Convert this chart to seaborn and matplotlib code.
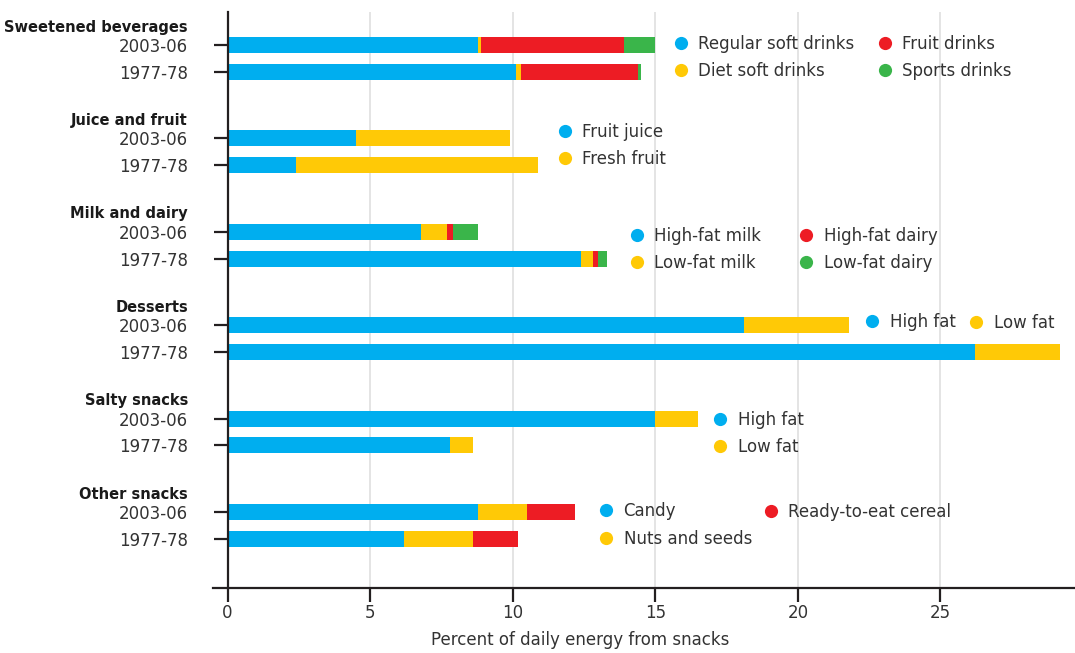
import pandas as pd
import numpy as np
import matplotlib.pyplot as plt
import matplotlib.transforms as mtransforms
from matplotlib.lines import Line2D
import seaborn as sns

# Data (percent of daily energy from snacks), segments in stacking order
periods = ["2003-06", "1977-78"]
groups = ["Sweetened beverages", "Juice and fruit", "Milk and dairy",
          "Desserts", "Salty snacks", "Other snacks"]

sweetened_labels = ["Regular soft drinks", "Diet soft drinks", "Fruit drinks", "Sports drinks"]
sweetened_2003 = [8.8, 0.1, 5.0, 1.1]
sweetened_1977 = [10.1, 0.2, 4.1, 0.1]

juice_labels = ["Fruit juice", "Fresh fruit"]
juice_2003 = [4.5, 5.4]
juice_1977 = [2.4, 8.5]

milk_labels = ["High-fat milk", "Low-fat milk", "High-fat dairy", "Low-fat dairy"]
milk_2003 = [6.8, 0.9, 0.2, 0.9]
milk_1977 = [12.4, 0.4, 0.2, 0.3]

desserts_labels = ["High fat", "Low fat"]
desserts_2003 = [18.1, 3.7]
desserts_1977 = [26.2, 3.0]

salty_labels = ["High fat", "Low fat"]
salty_2003 = [15.0, 1.5]
salty_1977 = [7.8, 0.8]

other_labels = ["Candy", "Nuts and seeds", "Ready-to-eat cereal"]
other_2003 = [8.8, 1.7, 1.7]
other_1977 = [6.2, 2.4, 1.6]

palette = ["#00AEEF", "#FFC906", "#ED1C24", "#3AB54A"]
xticks = [0, 5, 10, 15, 20, 25]
xlabel = "Percent of daily energy from snacks"

series = [(sweetened_2003, sweetened_1977), (juice_2003, juice_1977),
          (milk_2003, milk_1977), (desserts_2003, desserts_1977),
          (salty_2003, salty_1977), (other_2003, other_1977)]

# Build long table: one row per segment with its cumulative end
GROUP_STEP = 3.5
rows = []
for g, pair in enumerate(series):
    for p, vals in enumerate(pair):
        pos = GROUP_STEP * g + 1 + p
        ends = np.cumsum(vals)
        for layer, end in enumerate(ends):
            rows.append({"pos": pos, "layer": layer, "end": end})
df = pd.DataFrame(rows)

W, H = 1075, 653
TEXT = "#333333"
DARK = "#231f20"

sns.set_style("white")
plt.rcParams['font.family'] = ['DejaVu Sans']

fig = plt.figure(figsize=(W / 100, H / 100), dpi=100)
ax = fig.add_axes([213 / W, 65 / H, 862 / W, 576 / H])

# draw the largest cumulative layer first so shorter ones sit on top
for layer in sorted(df["layer"].unique(), reverse=True):
    sub = df[df["layer"] == layer]
    sns.barplot(data=sub, x="end", y="pos", orient="h", native_scale=True,
                color=palette[layer], width=0.6, errorbar=None,
                linewidth=0, saturation=1, ax=ax)

ax.set_xlim(-0.51, 29.72)
ax.set_ylim(21.34, -0.236)

# axes styling
for s in ["top", "right"]:
    ax.spines[s].set_visible(False)
ax.spines["left"].set_position(("data", 0))
for s in ["left", "bottom"]:
    ax.spines[s].set_linewidth(1.6)
    ax.spines[s].set_color(DARK)

ax.set_xticks(xticks)
ax.set_xticklabels([str(t) for t in xticks])
ypos = [GROUP_STEP * g + 1 + p for g in range(len(groups)) for p in range(2)]
ax.set_yticks(ypos)
ax.set_yticklabels(periods * len(groups))
ax.tick_params(axis="x", bottom=True, direction="out", length=10, width=1.6,
               color=DARK, labelsize=12, labelcolor=TEXT, pad=1.5)
ax.tick_params(axis="y", left=True, direction="out", length=10, width=1.6,
               color=DARK, labelsize=12, labelcolor=TEXT, pad=18.4)
ax.set_ylabel("")
ax.set_xlabel(xlabel, fontsize=12, color=TEXT)
ax.xaxis.set_label_coords((580 - 213) / 862, -0.075)

ax.grid(axis="x", color="#dddddd", linewidth=1.1)
ax.grid(axis="y", visible=False)
ax.set_axisbelow(True)

# group headers
trans = mtransforms.blended_transform_factory(fig.transFigure, ax.transData)
for g, name in enumerate(groups):
    ax.text(188 / W, GROUP_STEP * g + 0.33, name, transform=trans,
            ha="right", va="center", fontsize=10.5, fontweight="bold", color="#1a1a1a")

# legends, one per column: (labels, colour index offset, circle x px, centre y px)
legend_cols = [
    (sweetened_labels[:2], 0, 681, 57.5),
    (sweetened_labels[2:], 2, 885, 57.5),
    (juice_labels, 0, 565, 145.5),
    (milk_labels[:2], 0, 637, 249.5),
    (milk_labels[2:], 2, 806, 249.5),
    (desserts_labels[:1], 0, 872, 322),
    (desserts_labels[1:], 1, 976, 323),
    (salty_labels, 0, 720, 433.5),
    (other_labels[:2], 0, 606, 525),
    (other_labels[2:], 2, 771, 512),
]
fs_px = 12 * 100 / 72
for labels, off, cx, cy in legend_cols:
    handles = [Line2D([0], [0], marker="o", linestyle="", markersize=9.5,
                      markerfacecolor=palette[off + i], markeredgewidth=0)
               for i in range(len(labels))]
    fig.legend(handles, labels, loc="center left",
               bbox_to_anchor=((cx - 0.5 * fs_px) / W, 1 - cy / H),
               frameon=False, borderpad=0, borderaxespad=0, handlelength=1.0,
               handletextpad=0.55, labelspacing=0.57, fontsize=12,
               labelcolor=TEXT)

plt.savefig("out.png", dpi=100)
plt.close()
